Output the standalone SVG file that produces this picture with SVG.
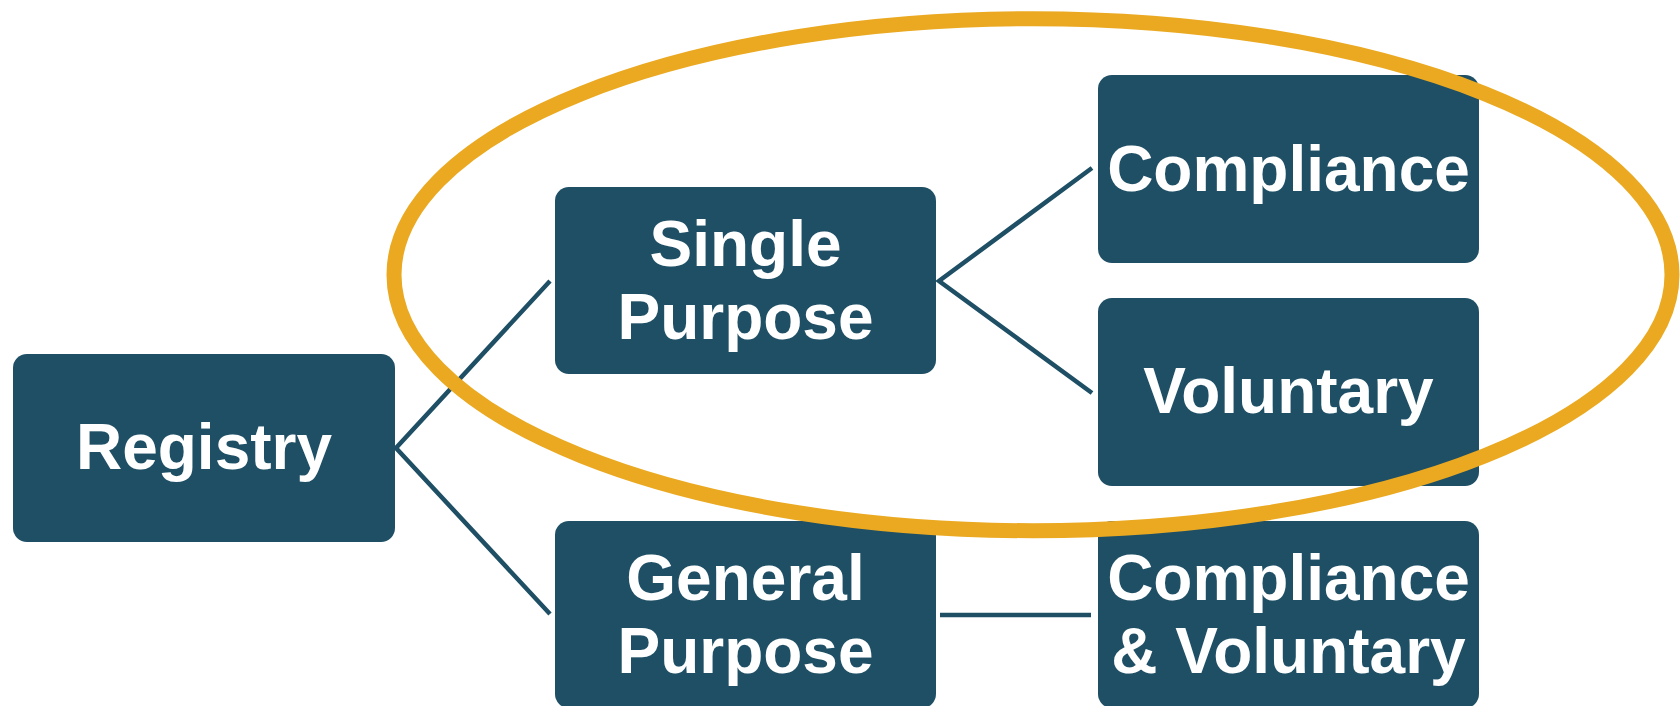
<svg xmlns="http://www.w3.org/2000/svg" width="1680" height="706" viewBox="0 0 1680 706">
<style>
.box{fill:#1e4f65;}
.lbl{fill:#ffffff;font-family:"Liberation Sans",Arial,sans-serif;font-weight:bold;font-size:64px;text-anchor:middle;}
.con{stroke:#1e4f65;stroke-width:4.5;fill:none;}
.ring{fill:none;stroke:#eaa921;stroke-width:15;}
</style>
<rect width="1680" height="706" fill="#ffffff"/>
<g id="connectors">
<polyline class="con" points="550,281 396,448 550,614"/>
<polyline class="con" points="1092,168 939,281 1092,393"/>
<line class="con" x1="940" y1="615" x2="1091" y2="615" stroke-width="5"/>
</g>
<g id="registry">
<rect class="box" x="13" y="354" width="382" height="188" rx="14"/>
<text class="lbl" x="204" y="469">Registry</text>
</g>
<g id="single-purpose">
<rect class="box" x="555" y="187" width="381" height="187" rx="14"/>
<text class="lbl" x="745.5" y="266">Single</text>
<text class="lbl" x="745.5" y="339">Purpose</text>
</g>
<g id="general-purpose">
<rect class="box" x="555" y="521" width="381" height="187" rx="14"/>
<text class="lbl" x="745.5" y="600">General</text>
<text class="lbl" x="745.5" y="673">Purpose</text>
</g>
<g id="compliance">
<rect class="box" x="1098" y="75" width="381" height="188" rx="14"/>
<text class="lbl" x="1288.5" y="191">Compliance</text>
</g>
<g id="voluntary">
<rect class="box" x="1098" y="298" width="381" height="188" rx="14"/>
<text class="lbl" x="1288.5" y="413">Voluntary</text>
</g>
<g id="compliance-voluntary">
<rect class="box" x="1098" y="521" width="381" height="187" rx="14"/>
<text class="lbl" x="1288.5" y="600">Compliance</text>
<text class="lbl" x="1288.5" y="673">&amp; Voluntary</text>
</g>
<g id="highlight">
<ellipse class="ring" cx="1033" cy="274.7" rx="639" ry="256"/>
</g>
</svg>
